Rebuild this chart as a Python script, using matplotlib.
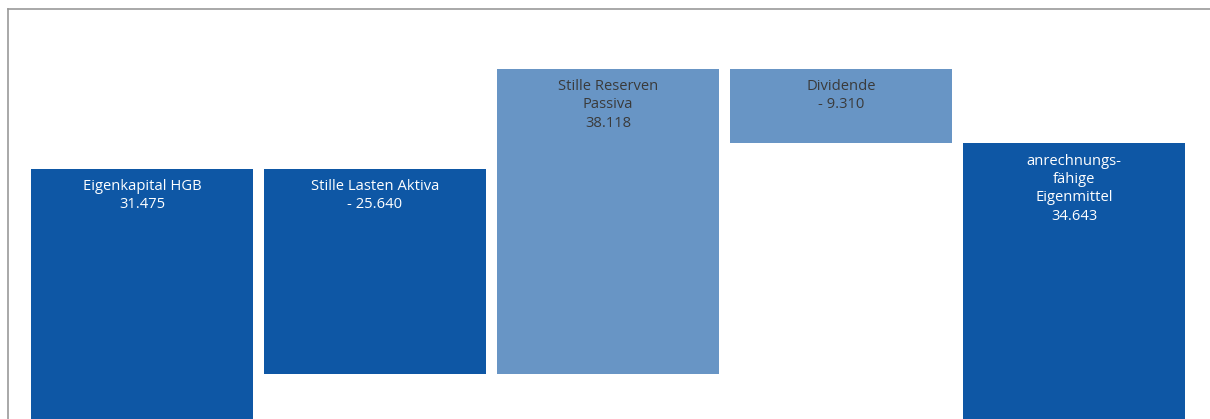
import matplotlib
matplotlib.use('Agg')
import matplotlib.pyplot as plt
import numpy as np

plt.rcParams['font.family'] = ['Open Sans', 'DejaVu Sans']

# Daten (Wasserfall)
labels = ['Eigenkapital HGB', 'Stille Lasten Aktiva', 'Stille Reserven\nPassiva',
          'Dividende', 'anrechnungs-\nfähige\nEigenmittel']
values = [31475, -25640, 38118, -9310, 34643]
is_total = [True, False, False, False, True]
colors = ['#0E57A5', '#0E57A5', '#6895C5', '#6895C5', '#0E57A5']
text_colors = ['white', 'white', '#3a3a3a', '#3a3a3a', 'white']

# Start- und Endpunkte der Balken berechnen
bottoms = []
heights = []
running = 0
for v, tot in zip(values, is_total):
    if tot:
        bottoms.append(0)
        heights.append(v)
        running = v
    else:
        bottoms.append(running)
        heights.append(v)
        running += v

def fmt(v):
    s = '{:,}'.format(abs(v)).replace(',', '.')
    return '- ' + s if v < 0 else s

W, H = 1210, 419
fig = plt.figure(figsize=(W / 100, H / 100), dpi=100)
# Achse etwas über den rechten/unteren Rand hinaus (Rahmen dort abgeschnitten)
left, right, top, bottom = 7.5, 1212, 9.5, 420.4
ax = fig.add_axes([left / W, (H - bottom) / H, (right - left) / W, (bottom - top) / H])

x = np.arange(len(values))
bars = ax.bar(x, heights, bottom=bottoms, width=0.953, color=colors, linewidth=0)

for i, rect in enumerate(bars):
    y_top = max(bottoms[i], bottoms[i] + heights[i])
    ax.annotate(labels[i] + '\n' + fmt(values[i]),
                xy=(x[i], y_top), xytext=(0, -7.5), textcoords='offset points',
                ha='center', va='top', fontsize=10.6, color=text_colors[i],
                linespacing=1.3)

xmin = -(142 - left) / 233
ax.set_xlim(xmin, xmin + (right - left) / 233)
ax.set_ylim(0, (bottom - top) / 8 * 1000)

ax.set_xticks([])
ax.set_yticks([])
for s in ['bottom', 'right']:
    ax.spines[s].set_visible(False)
for s in ['left', 'top']:
    ax.spines[s].set_color('#999999')
    ax.spines[s].set_linewidth(1.2)

plt.savefig('out.png', dpi=100)
